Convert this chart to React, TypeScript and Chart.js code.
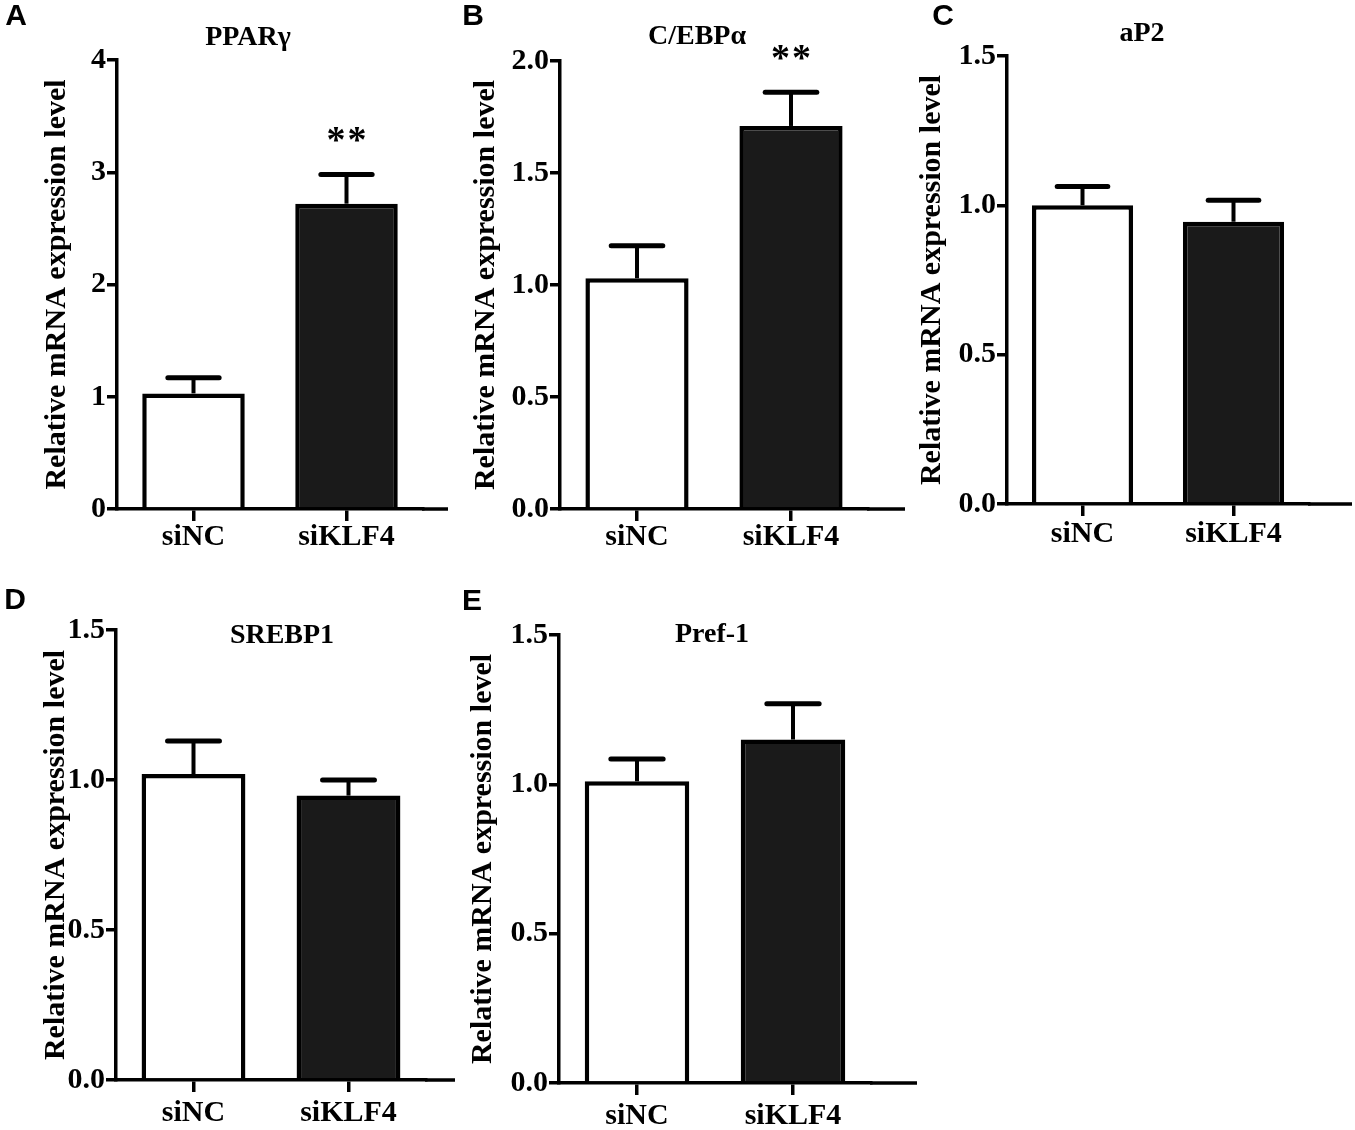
import { useEffect, useRef } from "react";
import { Chart, registerables } from "chart.js";

Chart.register(...registerables);

const SERIF = '"Liberation Serif", "Times New Roman", serif';
const SANS = '"Liberation Sans", Arial, sans-serif';

const categories = ["siNC", "siKLF4"];
const barFills = ["#ffffff", "#1a1a1a"];

// mean and SEM
const pparMeans = [1.03, 2.72];
const pparErrors = [0.14, 0.26];
const pparStars = ["", "**"];

const cebpMeans = [1.03, 1.71];
const cebpErrors = [0.145, 0.15];
const cebpStars = ["", "**"];

const ap2Means = [1.0, 0.945];
const ap2Errors = [0.063, 0.072];

const srebpMeans = [1.02, 0.948];
const srebpErrors = [0.11, 0.052];

const pref1Means = [1.01, 1.15];
const pref1Errors = [0.075, 0.12];

const ticks0to4 = [0, 1, 2, 3, 4];
const ticks0to2 = [0, 0.5, 1, 1.5, 2];
const ticks0to15 = [0, 0.5, 1, 1.5];

const yTitle = "Relative mRNA expression level";

type Box = { x: number; y: number; w: number; h: number };
type Plot = { left: number; top: number; bottom: number; width: number; axisEnd: number; labelPad: number };

interface PanelProps {
  letter: string;
  title: string;
  means: number[];
  errors: number[];
  stars?: string[];
  ticks: number[];
  decimals: number;
  box: Box;
  plot: Plot;
  yTitleX: number;
  letterPos: [number, number];
  titlePos: [number, number];
}

const decor = {
  id: "decor",
  afterDatasetsDraw(chart: any, _args: any, opts: any) {
    const ctx = chart.ctx as CanvasRenderingContext2D;
    const meta = chart.getDatasetMeta(0);
    const yScale = chart.scales.y;
    const values = chart.data.datasets[0].data as number[];
    ctx.save();
    ctx.strokeStyle = "#000";
    ctx.fillStyle = "#000";
    meta.data.forEach((bar: any, i: number) => {
      const top = yScale.getPixelForValue(values[i] + opts.errors[i]);
      const half = bar.width / 4;
      ctx.lineWidth = 4;
      ctx.lineCap = "butt";
      ctx.beginPath();
      ctx.moveTo(bar.x, bar.y);
      ctx.lineTo(bar.x, top);
      ctx.stroke();
      ctx.lineWidth = 5;
      ctx.lineCap = "round";
      ctx.beginPath();
      ctx.moveTo(bar.x - half, top);
      ctx.lineTo(bar.x + half, top);
      ctx.stroke();
      const star = opts.stars ? opts.stars[i] : "";
      if (star) {
        ctx.font = `bold 38px ${SERIF}`;
        ctx.textAlign = "center";
        ctx.textBaseline = "alphabetic";
        const chars = star.split("");
        chars.forEach((c: string, j: number) => {
          ctx.fillText(c, bar.x + (j - (chars.length - 1) / 2) * 21, top - 22);
        });
      }
    });
    ctx.restore();
  },
  afterDraw(chart: any, _args: any, opts: any) {
    const ctx = chart.ctx as CanvasRenderingContext2D;
    const area = chart.chartArea;
    ctx.save();
    // x axis runs on past the last bar
    ctx.strokeStyle = "#000";
    ctx.lineWidth = 3.5;
    ctx.beginPath();
    ctx.moveTo(area.right - 1, area.bottom);
    ctx.lineTo(opts.axisEnd, area.bottom);
    ctx.stroke();

    ctx.fillStyle = "#000";
    ctx.textAlign = "center";
    ctx.textBaseline = "middle";
    ctx.font = `bold 30px ${SANS}`;
    ctx.fillText(opts.letter, opts.letterPos[0], opts.letterPos[1]);
    ctx.font = `bold 28px ${SERIF}`;
    ctx.fillText(opts.title, opts.titlePos[0], opts.titlePos[1]);
    ctx.restore();
  },
};

function Panel(props: PanelProps) {
  const canvasRef = useRef<HTMLCanvasElement>(null);
  const { box, plot } = props;

  useEffect(() => {
    if (!canvasRef.current) return;
    const left = plot.left - box.x;
    const top = plot.top - box.y;
    const bottom = plot.bottom - box.y;
    const right = left + plot.width;
    const padLeft = props.yTitleX - box.x - 18;

    const tickFont = { family: SERIF, size: 30, weight: "bold" as const, lineHeight: 1 };

    const chart = new Chart(canvasRef.current, {
      type: "bar",
      data: {
        labels: categories,
        datasets: [
          {
            data: props.means,
            backgroundColor: barFills,
            borderColor: "#000",
            borderWidth: 4.5,
            barPercentage: 0.67,
            categoryPercentage: 1,
          },
        ],
      },
      plugins: [decor],
      options: {
        animation: false,
        responsive: true,
        maintainAspectRatio: false,
        layout: { padding: { left: padLeft, top, right: box.w - right, bottom: 0 } },
        plugins: {
          legend: { display: false },
          tooltip: { enabled: false },
          decor: {
            errors: props.errors,
            stars: props.stars,
            axisEnd: plot.axisEnd - box.x,
            letter: props.letter,
            letterPos: [props.letterPos[0] - box.x, props.letterPos[1] - box.y],
            title: props.title,
            titlePos: [props.titlePos[0] - box.x, props.titlePos[1] - box.y],
          },
        } as any,
        scales: {
          x: {
            offset: true,
            grid: {
              offset: false,
              drawOnChartArea: false,
              drawTicks: true,
              tickLength: 12,
              tickWidth: 3.5,
              tickColor: "#000",
              lineWidth: 3.5,
            },
            border: { display: true, color: "#000", width: 3.5 },
            ticks: {
              color: "#000",
              font: tickFont,
              padding: plot.labelPad,
              maxRotation: 0,
              autoSkip: false,
            },
            afterFit: (s: any) => {
              s.height = box.h - bottom;
            },
          },
          y: {
            min: 0,
            max: props.ticks[props.ticks.length - 1],
            grid: {
              drawOnChartArea: false,
              drawTicks: true,
              tickLength: 10,
              tickWidth: 3.5,
              tickColor: "#000",
              lineWidth: 3.5,
            },
            border: { display: true, color: "#000", width: 3.5 },
            ticks: {
              color: "#000",
              font: tickFont,
              padding: 1,
              callback: (v: any) => Number(v).toFixed(props.decimals),
            },
            afterBuildTicks: (s: any) => {
              s.ticks = props.ticks.map((v) => ({ value: v }));
            },
            title: {
              display: true,
              text: yTitle,
              color: "#000",
              font: { family: SERIF, size: 30, weight: "bold", lineHeight: 1.2 },
              padding: 0,
            },
            afterFit: (s: any) => {
              s.width = left - padLeft;
            },
          },
        },
      } as any,
    });

    return () => {
      chart.destroy();
    };
  }, []);

  return (
    <div style={{ position: "absolute", left: box.x, top: box.y, width: box.w, height: box.h }}>
      <canvas ref={canvasRef} />
    </div>
  );
}

export default function App() {
  return (
    <div
      style={{
        position: "absolute",
        left: 0,
        top: 0,
        width: 1355,
        height: 1130,
        background: "#ffffff",
        overflow: "hidden",
      }}
    >
      <Panel
        letter="A"
        title="PPARγ"
        means={pparMeans}
        errors={pparErrors}
        stars={pparStars}
        ticks={ticks0to4}
        decimals={0}
        box={{ x: 0, y: 0, w: 455, h: 565 }}
        plot={{ left: 117, top: 60, bottom: 509, width: 306, axisEnd: 448, labelPad: 1 }}
        yTitleX={57}
        letterPos={[16, 17]}
        titlePos={[248, 38]}
      />
      <Panel
        letter="B"
        title="C/EBPα"
        means={cebpMeans}
        errors={cebpErrors}
        stars={cebpStars}
        ticks={ticks0to2}
        decimals={1}
        box={{ x: 455, y: 0, w: 455, h: 565 }}
        plot={{ left: 560, top: 61, bottom: 509, width: 308, axisEnd: 905, labelPad: 1 }}
        yTitleX={486}
        letterPos={[473, 17]}
        titlePos={[697, 37]}
      />
      <Panel
        letter="C"
        title="aP2"
        means={ap2Means}
        errors={ap2Errors}
        ticks={ticks0to15}
        decimals={1}
        box={{ x: 910, y: 0, w: 445, h: 565 }}
        plot={{ left: 1007, top: 56, bottom: 504, width: 302, axisEnd: 1352, labelPad: 3 }}
        yTitleX={932}
        letterPos={[943, 17]}
        titlePos={[1142, 34]}
      />
      <Panel
        letter="D"
        title="SREBP1"
        means={srebpMeans}
        errors={srebpErrors}
        ticks={ticks0to15}
        decimals={1}
        box={{ x: 0, y: 565, w: 455, h: 565 }}
        plot={{ left: 116, top: 630, bottom: 1080, width: 310, axisEnd: 465, labelPad: 6 }}
        yTitleX={56}
        letterPos={[15, 601]}
        titlePos={[282, 636]}
      />
      <Panel
        letter="E"
        title="Pref-1"
        means={pref1Means}
        errors={pref1Errors}
        ticks={ticks0to15}
        decimals={1}
        box={{ x: 455, y: 565, w: 470, h: 565 }}
        plot={{ left: 559, top: 635, bottom: 1083, width: 312, axisEnd: 917, labelPad: 6 }}
        yTitleX={483}
        letterPos={[472, 602]}
        titlePos={[712, 635]}
      />
    </div>
  );
}
